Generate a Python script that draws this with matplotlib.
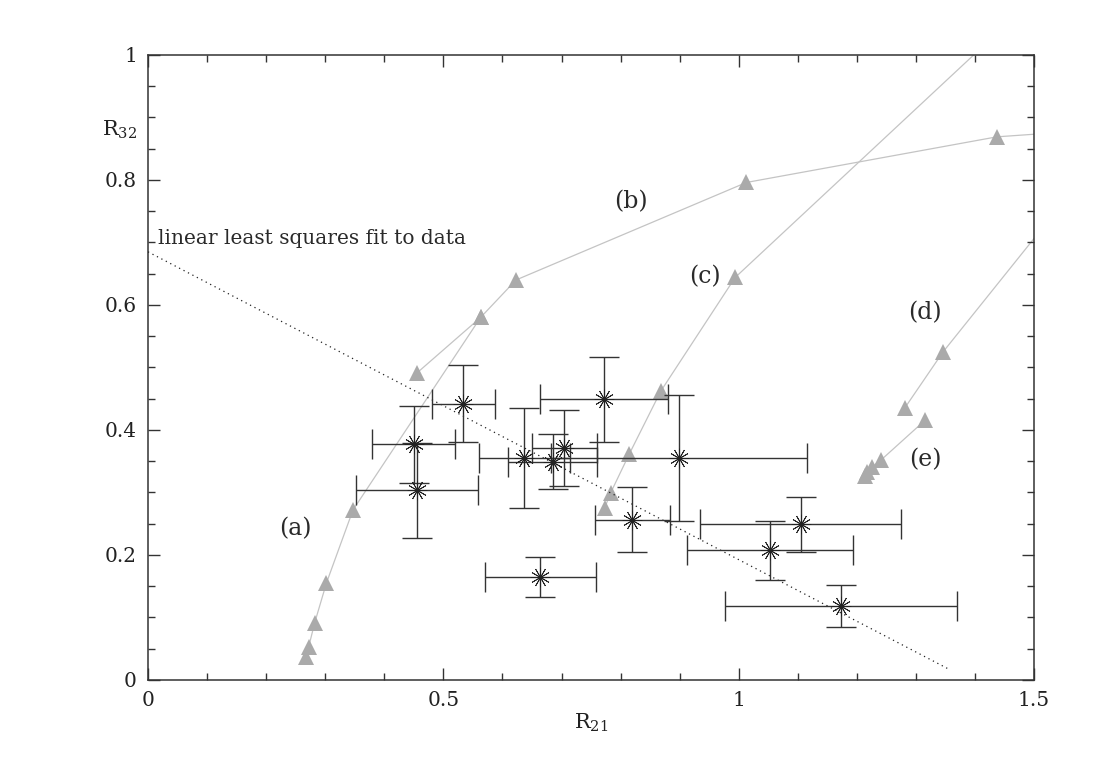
import matplotlib
matplotlib.use("Agg")
import matplotlib.pyplot as plt
import numpy as np
from matplotlib.ticker import MultipleLocator, FixedLocator, FixedFormatter

plt.rcParams['font.family'] = ['DejaVu Serif']
plt.rcParams['mathtext.fontset'] = 'dejavuserif'
plt.rcParams['mathtext.default'] = 'regular'

# ---- observed data (R21, R32) with errors ----
obs_x = [0.534, 0.450, 0.455, 0.637, 0.685, 0.705, 0.772, 0.899, 0.820, 0.664, 1.053, 1.105, 1.173]
obs_y = [0.442, 0.377, 0.3035, 0.355, 0.349, 0.371, 0.449, 0.355, 0.256, 0.165, 0.2075, 0.249, 0.118]
obs_xerr = [0.054, 0.070, 0.103, 0.077, 0.075, 0.055, 0.108, 0.217, 0.064, 0.094, 0.141, 0.170, 0.196]
obs_yerr = [0.062, 0.062, 0.076, 0.080, 0.044, 0.061, 0.068, 0.101, 0.052, 0.032, 0.047, 0.044, 0.034]

# ---- model tracks ----
a_x = [0.268, 0.272, 0.282, 0.302, 0.347, 0.563]
a_y = [0.037, 0.053, 0.091, 0.155, 0.272, 0.580]
b_x = [0.455, 0.563, 0.623, 1.013, 1.437, 1.52]
b_y = [0.491, 0.580, 0.640, 0.796, 0.869, 0.8745]
c_x = [0.773, 0.783, 0.815, 0.868, 0.994, 1.45]
c_y = [0.275, 0.299, 0.362, 0.462, 0.644, 1.046]
d_x = [1.281, 1.346, 1.52]
d_y = [0.435, 0.525, 0.730]
e_x = [1.213, 1.218, 1.226, 1.241, 1.316]
e_y = [0.327, 0.332, 0.341, 0.352, 0.416]

track_labels = ['(a)', '(b)', '(c)', '(d)', '(e)']
track_label_x = [0.249, 0.817, 0.943, 1.316, 1.316]
track_label_y = [0.242, 0.765, 0.645, 0.587, 0.353]

# ---- linear least squares fit ----
fit_intercept = 0.685
fit_slope = -0.4925
fit_xrange = [0.0, 1.355]

xtick_vals = [0, 0.5, 1, 1.5]
xtick_labels = ['0', '0.5', '1', '1.5']
ytick_vals = [0, 0.2, 0.4, 0.6, 0.8, 1]
ytick_labels = ['0', '0.2', '0.4', '0.6', '0.8', '1']

fig = plt.figure(figsize=(11.03, 7.72), dpi=100)
ax = fig.add_axes([0.1342, 0.1192, 0.8033, 0.8096])

tri_col = '#aaaaaa'
line_col = '#c4c4c4'
for tx, ty in [(a_x, a_y), (b_x, b_y), (c_x, c_y), (d_x, d_y), (e_x, e_y)]:
    ax.plot(tx, ty, '-', color=line_col, lw=0.9, zorder=1)
    inside = [i for i, (xx, yy) in enumerate(zip(tx, ty)) if xx <= 1.5 and yy <= 1.0]
    ax.plot([tx[i] for i in inside], [ty[i] for i in inside], '^', color=tri_col,
            markersize=11, markeredgewidth=0, linestyle='none', zorder=2)

fx = np.array(fit_xrange)
ax.plot(fx, fit_intercept + fit_slope * fx, color='#222222', lw=0.9,
        linestyle=(0, (1, 3)), zorder=3)

ax.errorbar(obs_x, obs_y, xerr=obs_xerr, yerr=obs_yerr, fmt='none',
            ecolor='#333333', elinewidth=1.0, capsize=11, capthick=1.0, zorder=4)
ax.plot(obs_x, obs_y, marker=(12, 2, 0), linestyle='none', color='#222222',
        markersize=14, markeredgewidth=0.6, zorder=5)

for lab, lx, ly in zip(track_labels, track_label_x, track_label_y):
    ax.text(lx, ly, lab, fontsize=17, ha='center', va='center', color='#2a2a2a')

ax.text(0.017, 0.707, 'linear least squares fit to data', fontsize=14.5,
        ha='left', va='center', color='#2a2a2a')

ax.set_xlim(0, 1.5)
ax.set_ylim(0, 1)
ax.xaxis.set_major_locator(FixedLocator(xtick_vals))
ax.xaxis.set_major_formatter(FixedFormatter(xtick_labels))
ax.yaxis.set_major_locator(FixedLocator(ytick_vals))
ax.yaxis.set_major_formatter(FixedFormatter(ytick_labels))
ax.xaxis.set_minor_locator(MultipleLocator(0.1))
ax.yaxis.set_minor_locator(MultipleLocator(0.05))
ax.tick_params(which='both', direction='in', top=True, right=True,
               color='#333333', width=1.0)
ax.tick_params(which='major', length=8.6, labelsize=14.5, pad=8, labelcolor='#222222')
ax.tick_params(which='minor', length=4.7)
for sp in ax.spines.values():
    sp.set_color('#333333')
    sp.set_linewidth(1.1)

ax.text(-0.012, 0.88, r'R$_{32}$', transform=ax.transAxes, fontsize=15,
        ha='right', va='center', color='#222222')
ax.text(0.5, -0.069, r'R$_{21}$', transform=ax.transAxes, fontsize=15,
        ha='center', va='center', color='#222222')

fig.savefig('out.png', dpi=100)
